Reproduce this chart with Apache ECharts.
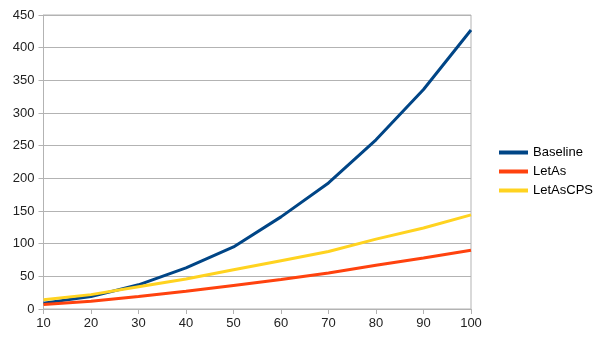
<!DOCTYPE html>
<html>
<head>
<meta charset="utf-8">
<script src="https://cdn.jsdelivr.net/npm/echarts@6/dist/echarts.min.js"></script>
<style>
  html, body { margin: 0; padding: 0; background: #fff; }
  #chart { width: 605px; height: 340px; }
</style>
</head>
<body>
<div id="chart"></div>
<script>
// Problem sizes on the x axis
const sizes = ['10', '20', '30', '40', '50', '60', '70', '80', '90', '100'];

// Measured values per variant
const baseline = [9, 19, 37, 63, 95, 141, 193, 259, 336, 427];
const letAs = [7, 12, 19, 27, 36, 45, 55, 67, 78, 90];
const letAsCPS = [14, 22, 34, 46, 60, 74, 88, 107, 124, 144];

// Y axis range
const yMin = 0, yMax = 450, yStep = 50;

const chart = echarts.init(document.getElementById('chart'), null, { renderer: 'canvas' });

const textStyle = { fontFamily: 'Liberation Sans, Arial, sans-serif', fontSize: 13, color: '#222' };
const gridColor = '#b3b3b3';

function lineSeries(name, data, color) {
  return {
    name: name,
    type: 'line',
    data: data,
    symbol: 'none',
    smooth: false,
    lineStyle: { color: color, width: 3 },
    itemStyle: { color: color }
  };
}

chart.setOption({
  animation: false,
  backgroundColor: '#fff',
  textStyle: textStyle,
  grid: {
    left: 43.5, right: 134, top: 15, bottom: 31,
    show: true, borderColor: gridColor, borderWidth: 1
  },
  legend: {
    orient: 'vertical',
    left: 494,
    top: 140,
    icon: 'rect',
    itemWidth: 29,
    itemHeight: 4,
    itemGap: 4,
    textStyle: Object.assign({}, textStyle, { color: '#000', lineHeight: 15 }),
    data: ['Baseline', 'LetAs', 'LetAsCPS']
  },
  xAxis: {
    type: 'category',
    data: sizes,
    boundaryGap: false,
    axisLine: { lineStyle: { color: gridColor } },
    axisTick: { show: true, length: 5, lineStyle: { color: gridColor } },
    axisLabel: Object.assign({}, textStyle, { margin: 8 }),
    splitLine: { show: false }
  },
  yAxis: {
    type: 'value',
    min: yMin, max: yMax, interval: yStep,
    axisLine: { show: true, lineStyle: { color: gridColor } },
    axisTick: { show: true, length: 5, lineStyle: { color: gridColor } },
    axisLabel: Object.assign({}, textStyle, { margin: 9 }),
    splitLine: { show: true, lineStyle: { color: gridColor, width: 1 } }
  },
  series: [
    lineSeries('Baseline', baseline, '#004586'),
    lineSeries('LetAs', letAs, '#ff420e'),
    lineSeries('LetAsCPS', letAsCPS, '#ffd320')
  ]
});
</script>
</body>
</html>
